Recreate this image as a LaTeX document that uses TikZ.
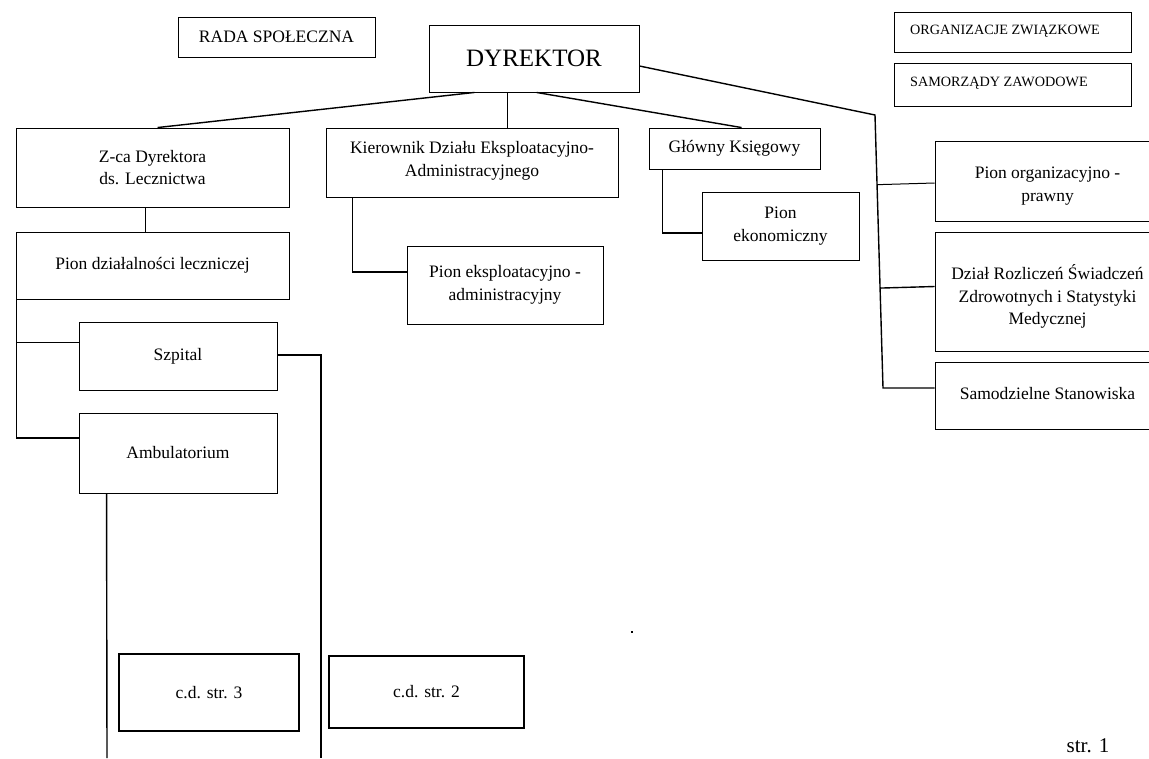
\documentclass[tikz,border=0pt]{standalone}
\usepackage{fontspec}
\setmainfont{Liberation Serif}
\usetikzlibrary{calc}
\begin{document}
\begin{tikzpicture}[x=1pt,y=-1pt,
  box/.style={draw, line width=0.9pt, inner sep=0pt, align=center,
    font=\fontsize{17.5}{22.5}\selectfont},
  txt/.style={inner sep=0pt, align=center, font=\fontsize{17.5}{22.8}\selectfont},
  cdbox/.style={box, line width=1.8pt},
  conn/.style={line width=1.4pt},
  lbl/.style={inner sep=0pt, anchor=base west, font=\fontsize{14.2}{16}\selectfont}]
\useasboundingbox (0,0) rectangle (1149,758);

% top boxes
\node[box, minimum width=197, minimum height=40, font=\fontsize{17.5}{20}\selectfont] (rada) at (276.5,37) {RADA SPOŁECZNA};
\node[box, minimum width=210, minimum height=67, font=\fontsize{25}{30}\selectfont] (dyr) at (534,58.5) {DYREKTOR};
\node[box, minimum width=237, minimum height=40, anchor=north west] (org) at (894,12) {};
\node[lbl] (orgt) at (910,34) {ORGANIZACJE ZWIĄZKOWE};
\node[box, minimum width=237, minimum height=43, anchor=north west] (sam) at (894,63) {};
\node[lbl] (samt) at (910,86) {SAMORZĄDY ZAWODOWE};

% second level
\node[box, minimum width=273, minimum height=79] (zca) at (152.5,167.5) {Z-ca Dyrektora\\ds. Lecznictwa};
\node[box, minimum width=292, minimum height=69] (kier) at (472,162.5) {};
\node[txt] (kiert) at ($(kier.center)+(0,-2)$) {Kierownik Działu Eksploatacyjno-\\Administracyjnego};
\node[box, minimum width=171, minimum height=41] (glow) at (734.5,148.5) {Główny Księgowy};
\node[box, minimum width=157, minimum height=68] (ekon) at (780.5,226) {Pion\\ekonomiczny};
\node[box, minimum width=196, minimum height=78] (eksp) at (505,285) {Pion eksploatacyjno -\\administracyjny};

% left column
\node[box, minimum width=273, minimum height=67] (pdl) at (152.5,265.5) {Pion działalności leczniczej};
\node[box, minimum width=198, minimum height=68] (szp) at (178,356) {Szpital};
\node[box, minimum width=198, minimum height=80] (amb) at (178,453) {Ambulatorium};

% right column
\node[box, minimum width=225, minimum height=80] (porg) at (1047.5,181) {};
\node[txt] (porgt) at ($(porg.center)+(0,5)$) {Pion organizacyjno -\\prawny};
\node[box, minimum width=225, minimum height=119] (dzial) at (1047.5,291.5) {};
\node[txt] (dzialt) at ($(dzial.center)+(0,5)$) {Dział Rozliczeń Świadczeń\\Zdrowotnych i Statystyki\\Medycznej};
\node[box, minimum width=225, minimum height=67] (samo) at (1047.5,395.5) {};
\node[txt] (samot) at ($(samo.center)+(0,-2)$) {Samodzielne Stanowiska};

% bottom boxes
\node[cdbox, minimum width=180, minimum height=77] (cd3) at (209,692.5) {c.d. str. 3};
\node[cdbox, minimum width=195, minimum height=72] (cd2) at (426.5,692) {c.d. str. 2};

\node[inner sep=0pt, font=\fontsize{21}{24}\selectfont] (str) at (1088,746) {str. 1};

% coordinates
\coordinate (top) at (875,115);
\coordinate (bot) at (883,388);
\coordinate (e1) at (321,758);
\coordinate (e2) at (107,758);

% connectors
\draw[conn] ($(dyr.south west)+(46,0)$) -- ($(zca.north west)+(142,0)$);
\draw[conn] ($(dyr.south west)+(79,0)$) -- ($(kier.north west)+(182,0)$);
\draw[conn] ($(dyr.south west)+(108,0)$) -- ($(glow.north west)+(93,0)$);
\draw[conn] ($(dyr.east)+(0,7.5)$) -- (top) -- (bot) -- (bot -| samo.west);
\draw[line width=1pt] ($(top)!($(porg.west)+(0,2)$)!(bot)$) -- ($(porg.west)+(0,2)$);
\draw[conn] ($(top)!($(dzial.west)+(0,-5)$)!(bot)$) -- ($(dzial.west)+(0,-5)$);

\draw[conn] ($(kier.south west)+(27,0)$) |- ($(eksp.west)+(0,-13)$);
\draw[conn] ($(glow.south west)+(14,0)$) |- ($(ekon.west)+(0,7)$);

\draw[conn] ($(zca.south west)+(130,0)$) -- ($(pdl.north west)+(130,0)$);
\draw[line width=1pt] ($(pdl.south west)+(1,0)$) |- ($(szp.west)+(0,-14)$);
\draw[conn] ($(pdl.south west)+(1,0)$) |- ($(amb.west)+(0,-15)$);
\draw[conn] ($(szp.east)+(0,-1)$) -| (e1);
\draw[conn] ($(amb.south west)+(28,0)$) -- (e2);

\fill (631,631) rectangle (633,633);
\end{tikzpicture}
\end{document}
